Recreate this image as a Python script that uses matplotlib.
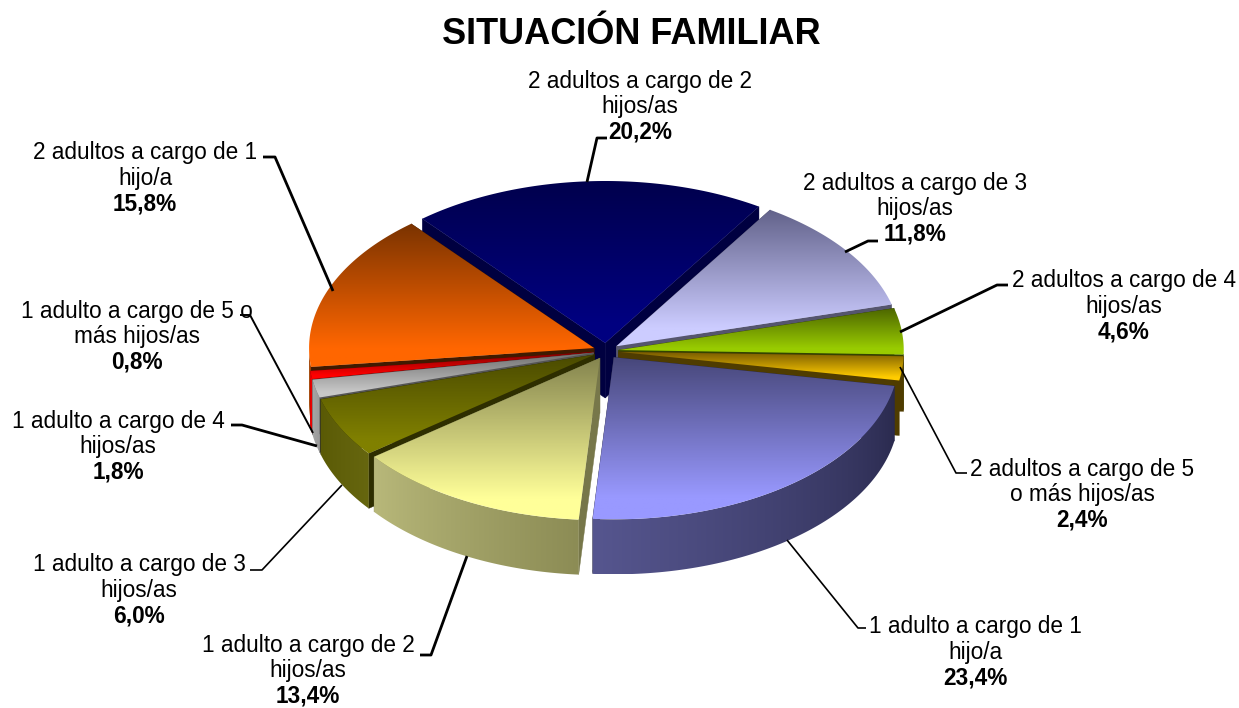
"""Situacion familiar: 3D looking pie, drawn in pixel coordinates."""

import matplotlib
matplotlib.use("Agg")
import numpy as np
import matplotlib.pyplot as plt
from matplotlib.colors import LinearSegmentedColormap, to_rgb
from matplotlib.patches import Polygon

plt.rcParams["font.family"] = ["Liberation Sans", "DejaVu Sans"]

# %%
# data, clockwise from the 1 adulto / 1 hijo slice
labels = [
    "1 adulto a cargo de 1\nhijo/a",
    "1 adulto a cargo de 2\nhijos/as",
    "1 adulto a cargo de 3\nhijos/as",
    "1 adulto a cargo de 4\nhijos/as",
    "1 adulto a cargo de 5 o\nmás hijos/as",
    "2 adultos a cargo de 1\nhijo/a",
    "2 adultos a cargo de 2\nhijos/as",
    "2 adultos a cargo de 3\nhijos/as",
    "2 adultos a cargo de 4\nhijos/as",
    "2 adultos a cargo de 5\no más hijos/as",
]
values = [23.4, 13.4, 6.0, 1.8, 0.8, 15.8, 20.2, 11.8, 4.6, 2.4]
value_labels = ["23,4%", "13,4%", "6,0%", "1,8%", "0,8%", "15,8%", "20,2%", "11,8%", "4,6%", "2,4%"]

# top colours (dark end, light end), then wall colours (at start, at end of slice)
top_dark = ["#47477a", "#85854f", "#4a4a00", "#707070", "#800000", "#7a3300", "#00004d", "#62628a", "#4d6600", "#7a5c00"]
top_light = ["#9999ff", "#ffff99", "#808000", "#c8c8c8", "#ff0000", "#ff6600", "#000080", "#ccccff", "#99cc00", "#ffcc00"]
wall_start = ["#2a2a4e", "#8c8c55", "#66660f", "#9a9a9a", "#e00000", "#a04000", "#000040", "#66667f", "#4d6600", "#7a5c00"]
wall_end = ["#56568f", "#b8b87a", "#5a5a05", "#a8a8a8", "#ff0000", "#b04800", "#000040", "#66667f", "#4d6600", "#806000"]
face_colors = ["#2a2a4e", "#77774a", "#2e2e00", "#555555", "#800000", "#401a00", "#000040", "#55556e", "#334400", "#4f3c00"]

# leader lines and label anchors in image pixels
leaders = [
    [(787, 540), (858, 628), (866, 628)],
    [(467, 556), (431, 655), (420, 655)],
    [(342, 485), (262, 570), (250, 570)],
    [(317, 446), (242, 425), (231, 425)],
    [(313, 433), (250, 315), (240, 315)],
    [(333, 291), (275, 157), (263, 157)],
    [(587, 182), (597, 138), (607, 138)],
    [(845, 252), (868, 241), (878, 241)],
    [(900, 332), (997, 285), (1008, 285)],
    [(900, 367), (956, 473), (967, 473)],
]
leader_widths = [1.2, 2.0, 1.2, 2.0, 1.4, 2.0, 2.0, 2.0, 2.0, 1.2]
label_xy = [
    (975, 652), (308, 671), (139, 590), (118, 447), (137, 337),
    (145, 178), (640, 107), (915, 209), (1124, 306), (1082, 495),
]

cx, cy = 606, 351
rx, ry = 285, 162
depth = 55
explode = 0.045
start = 100.2

fig = plt.figure(figsize=(12.39, 7.08), dpi=100)
ax = fig.add_axes([0, 0, 1, 1])
ax.set_xlim(0, 1239)
ax.set_ylim(708, 0)
ax.axis("off")


def rim(t, dx, dy):
    t = np.radians(t)
    return np.column_stack((cx + dx + rx * np.sin(t), cy + dy - ry * np.cos(t)))


edges = start + 360.0 * np.cumsum([0] + values) / sum(values)
mids = 0.5 * (edges[:-1] + edges[1:])
# back slices first, so the front ones paint over them
order = np.argsort(-np.cos(np.radians(mids)) + 0.001 * np.arange(len(values)))

for i in order:
    t0, t1 = edges[i], edges[i + 1]
    m = np.radians(mids[i])
    dx = explode * rx * np.sin(m)
    dy = -explode * ry * 1.1 * np.cos(m)
    apex = np.array([cx + dx, cy + dy])
    arc = rim(np.linspace(t0, t1, 120), dx, dy)
    down = np.array([0, depth])

    # the two cut faces
    for end_point in (arc[0], arc[-1]):
        quad = [apex, end_point, end_point + down, apex + down]
        ax.add_patch(Polygon(quad, closed=True, fc=face_colors[i], ec=face_colors[i], lw=0.3, zorder=2))

    # outer wall, only where it faces the viewer, shaded along the arc
    lo, hi = max(t0, 90.0), min(t1, 270.0)
    if hi > lo:
        wall = rim(np.linspace(lo, hi, 120), dx, dy)
        wall_patch = Polygon(np.vstack((wall, wall[::-1] + down)), closed=True, fc="none", ec="none", zorder=2)
        ax.add_patch(wall_patch)
        x0, x1 = wall[:, 0].min(), wall[:, 0].max()
        if x1 - x0 < 1:
            x1 = x0 + 1
        xs = np.linspace(x0, x1, 400)
        s = np.clip((xs - cx - dx) / rx, -1, 1)
        t_col = 180.0 - np.degrees(np.arcsin(s))
        f = np.clip((t_col - t0) / (t1 - t0), 0, 1)[:, None]
        c0, c1 = np.array(to_rgb(wall_start[i])), np.array(to_rgb(wall_end[i]))
        rgb = (c0 + (c1 - c0) * f)[None, :, :]
        img = ax.imshow(
            rgb,
            extent=(x0, x1, wall[:, 1].max() + depth, wall[:, 1].min()),
            aspect="auto",
            zorder=2,
        )
        img.set_clip_path(wall_patch)

    # top with the vertical gradient
    outline = np.vstack((apex, arc))
    patch = Polygon(outline, closed=True, fc="none", ec="none", zorder=2)
    ax.add_patch(patch)
    x0, x1 = outline[:, 0].min(), outline[:, 0].max()
    y0, y1 = outline[:, 1].min(), outline[:, 1].max()
    cmap = LinearSegmentedColormap.from_list("top", [top_dark[i], top_light[i]])
    img = ax.imshow(
        np.clip(np.linspace(0, 1.15, 128), 0, 1).reshape(-1, 1),
        extent=(x0, x1, y1, y0),
        cmap=cmap,
        aspect="auto",
        zorder=2,
    )
    img.set_clip_path(patch)

ax.set_xlim(0, 1239)
ax.set_ylim(708, 0)

for pts, lw in zip(leaders, leader_widths):
    xs, ys = zip(*pts)
    ax.plot(xs, ys, color="black", lw=lw, zorder=3, solid_capstyle="butt")

for (x, y), name, val in zip(label_xy, labels, value_labels):
    first, second = name.split("\n")
    ax.text(x, y - 25.5, first, ha="center", va="center", fontsize=16.3, zorder=4)
    ax.text(x, y, second, ha="center", va="center", fontsize=16.3, zorder=4)
    ax.text(x, y + 25.5, val, ha="center", va="center", fontsize=16.3, fontweight="bold", zorder=4)

ax.text(631, 35, "SITUACIÓN FAMILIAR", ha="center", va="center", fontsize=26, fontweight="bold", zorder=4)

fig.savefig("out.png", dpi=100)
